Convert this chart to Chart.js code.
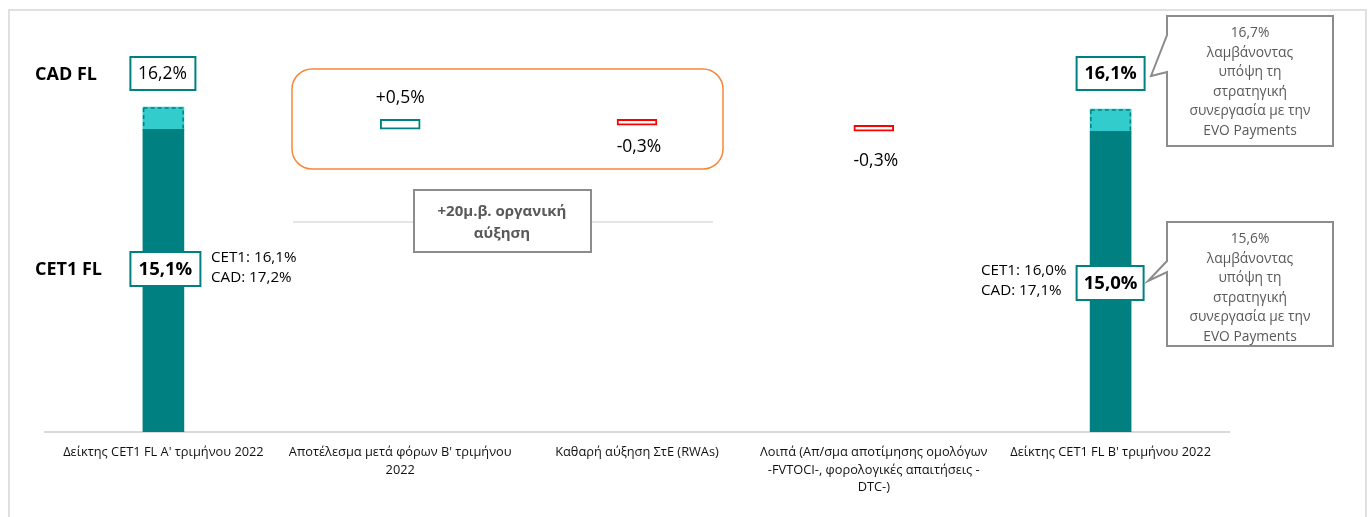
<!DOCTYPE html>
<html>
<head>
<meta charset="utf-8">
<script src="https://cdn.jsdelivr.net/npm/chart.js@4/dist/chart.umd.min.js"></script>
<style>
  html, body { margin: 0; padding: 0; background: #fff; }
</style>
</head>
<body>
<canvas id="chart1" width="1370" height="517"></canvas>
<script>
// categories (x axis)
const categories = [
  "Δείκτης CET1 FL Α' τριμήνου 2022",
  ["Αποτέλεσμα μετά φόρων Β' τριμήνου", "2022"],
  "Καθαρή αύξηση ΣτΕ (RWAs)",
  ["Λοιπά (Απ/σμα αποτίμησης ομολόγων", "-FVTOCI-, φορολογικές απαιτήσεις -", "DTC-)"],
  "Δείκτης CET1 FL Β' τριμήνου 2022"
];

// values in %
const cet1Totals = [15.1, null, null, null, 15.0];
const cadTotals = [16.2, null, null, null, 16.1];
const deltas = [null, 0.5, -0.3, -0.3, null];

// texts
const deltaLabels = [null, "+0,5%", "-0,3%", "-0,3%", null];
const cadLabels = ["16,2%", null, null, null, "16,1%"];
const cet1Labels = ["15,1%", null, null, null, "15,0%"];
const sideNotes = [["CET1: 16,1%", "CAD: 17,2%"], null, null, null, ["CET1: 16,0%", "CAD: 17,1%"]];
const calloutCad = ["16,7%", "λαμβάνοντας", "υπόψη τη", "στρατηγική", "συνεργασία με την", "EVO Payments"];
const calloutCet1 = ["15,6%", "λαμβάνοντας", "υπόψη τη", "στρατηγική", "συνεργασία με την", "EVO Payments"];
const organicNote = ["+20μ.β. οργανική", "αύξηση"];

const TEAL = "#008080";
const LIGHT_TEAL = "#33CCCC";
const RED = "#FF0000";
const FONT = "'Open Sans', 'Noto Sans', sans-serif";

// floating bars built from the values above
const cet1Bars = cet1Totals.map(v => (v === null ? null : [0, v]));
const cadBars = cadTotals.map((v, i) => (v === null ? null : [cet1Totals[i], v]));
let running = cet1Totals[0];
const stepBars = deltas.map(d => {
  if (d === null) return null;
  const from = running;
  running = Math.round((running + d) * 10) / 10;
  return [from, running];
});
const stepColors = deltas.map(d => (d !== null && d < 0 ? RED : TEAL));

function txt(ctx, s, x, y, size, opts) {
  opts = opts || {};
  ctx.font = (opts.bold ? "bold " : "") + size + "px " + FONT;
  ctx.fillStyle = opts.color || "#000";
  ctx.textAlign = opts.align || "center";
  ctx.textBaseline = "middle";
  ctx.fillText(s, x, y);
}

function box(ctx, x, y, w, h, color, lw) {
  ctx.save();
  ctx.strokeStyle = color;
  ctx.lineWidth = lw;
  ctx.fillStyle = "#fff";
  ctx.fillRect(x, y, w, h);
  ctx.strokeRect(x, y, w, h);
  ctx.restore();
}

function callout(ctx, x, y, w, h, p1, tip, p2, lines) {
  ctx.save();
  ctx.strokeStyle = "#8c8c8c";
  ctx.lineWidth = 2;
  ctx.fillStyle = "#fff";
  ctx.beginPath();
  ctx.moveTo(x, y);
  ctx.lineTo(x + w, y);
  ctx.lineTo(x + w, y + h);
  ctx.lineTo(x, y + h);
  ctx.lineTo(x, p2);
  ctx.lineTo(tip[0], tip[1]);
  ctx.lineTo(x, p1);
  ctx.closePath();
  ctx.fill();
  ctx.stroke();
  lines.forEach((l, i) => txt(ctx, l, x + w / 2, y + 17 + i * 19.6, 13.8, { color: "#595959" }));
  ctx.restore();
}

const annotations = {
  id: "annotations",
  beforeDraw(chart) {
    const ctx = chart.ctx;
    ctx.save();
    ctx.strokeStyle = "#e0e0e0";
    ctx.lineWidth = 2;
    ctx.strokeRect(9, 10, 1357, 600);
    ctx.restore();
  },
  afterDatasetsDraw(chart) {
    const ctx = chart.ctx;
    // dashed outline around the CAD part
    const meta = chart.getDatasetMeta(1);
    meta.data.forEach((el, i) => {
      if (cadBars[i] === null) return;
      const p = el.getProps(["x", "y", "base", "width"], true);
      ctx.save();
      ctx.setLineDash([4, 3]);
      ctx.strokeStyle = TEAL;
      ctx.lineWidth = 1.5;
      ctx.strokeRect(p.x - p.width / 2 + 0.75, p.y + 0.75, p.width - 1.5, p.base - p.y);
      ctx.restore();
    });
  },
  afterDraw(chart) {
    const ctx = chart.ctx;
    const xs = chart.scales.x;
    const ys = chart.scales.y;

    // row titles
    txt(ctx, "CAD FL", 35, 75, 18, { bold: true, align: "left" });
    txt(ctx, "CET1 FL", 35, 270, 18, { bold: true, align: "left" });

    // orange frame round the profit / RWA effect
    ctx.save();
    ctx.strokeStyle = "#F7883A";
    ctx.lineWidth = 1.5;
    ctx.beginPath();
    ctx.roundRect(292, 69, 431, 100, 20);
    ctx.stroke();
    ctx.strokeStyle = "#dcdcdc";
    ctx.lineWidth = 1.5;
    ctx.beginPath();
    ctx.moveTo(293, 222);
    ctx.lineTo(713, 222);
    ctx.stroke();
    ctx.restore();
    box(ctx, 414, 190, 177, 62, "#8c8c8c", 2);
    organicNote.forEach((l, i) => txt(ctx, l, 502, 212 + i * 22, 15, { bold: true, color: "#595959" }));

    // step labels
    deltaLabels.forEach((l, i) => {
      if (l === null) return;
      const cx = xs.getPixelForValue(i);
      const top = ys.getPixelForValue(Math.max(stepBars[i][0], stepBars[i][1]));
      const bot = ys.getPixelForValue(Math.min(stepBars[i][0], stepBars[i][1]));
      if (deltas[i] > 0) txt(ctx, l, cx, top - 21, 17.5);
      else txt(ctx, l, cx + 2, bot + (i === 3 ? 30 : 22), 17.5);
    });

    // total boxes
    [0, 4].forEach(i => {
      const cx = xs.getPixelForValue(i);
      const last = i === 4;
      box(ctx, cx - (last ? 34 : 33), 57, last ? 68 : 65, 33, TEAL, 2);
      txt(ctx, cadLabels[i], cx + (last ? 0 : -1), 74, last ? 18 : 17.5, { bold: last });
      const cy = last ? 283 : 269;
      box(ctx, cx - (last ? 34 : 33), cy - 17, last ? 67 : 70, 34, TEAL, 2);
      txt(ctx, cet1Labels[i], cx + (last ? 0 : 2), cy + 1, 18.5, { bold: true });
      const nx = last ? 981 : 211;
      const ny = last ? 271 : 258;
      sideNotes[i].forEach((l, k) => txt(ctx, l, nx, ny + k * 20, 15.2, { align: "left" }));
    });

    // callouts
    callout(ctx, 1167, 16, 166, 130, 35, [1151, 76], 72, calloutCad);
    callout(ctx, 1167, 222, 166, 124, 261, [1148, 281], 272, calloutCet1);
  }
};

const chart = new Chart(document.getElementById("chart1"), {
  type: "bar",
  data: {
    labels: categories,
    datasets: [
      { label: "CET1", data: cet1Bars, backgroundColor: TEAL, borderWidth: 0, grouped: false, barThickness: 41 },
      { label: "CAD", data: cadBars, backgroundColor: LIGHT_TEAL, borderWidth: 0, grouped: false, barThickness: 41 },
      {
        label: "Μεταβολή",
        data: stepBars,
        backgroundColor: "#fff",
        borderColor: stepColors,
        borderWidth: 2,
        borderSkipped: false,
        grouped: false,
        barThickness: 40
      }
    ]
  },
  options: {
    responsive: false,
    animation: false,
    layout: { padding: { left: 45, right: 141, top: 31, bottom: 0 } },
    plugins: { legend: { display: false }, tooltip: { enabled: false } },
    scales: {
      y: { display: false, min: 0, max: 20 },
      x: {
        grid: { display: false },
        border: { color: "#d9d9d9", width: 2 },
        ticks: {
          color: "#111",
          font: { family: FONT, size: 12.8, lineHeight: 1.37 },
          padding: 4,
          maxRotation: 0,
          autoSkip: false
        },
        afterFit(s) { s.height = 85; }
      }
    }
  },
  plugins: [annotations]
});
</script>
</body>
</html>
